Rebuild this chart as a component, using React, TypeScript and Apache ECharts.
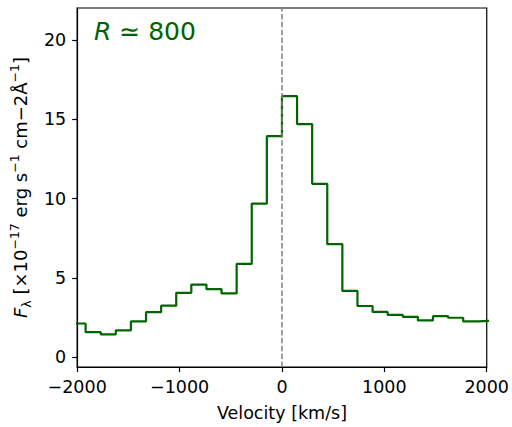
import React, { useEffect, useRef } from "react";
import * as echarts from "echarts";

// Bin edges of the spectrum (km/s) and flux per bin (1e-17 erg s^-1 cm^-2 Å^-1)
const binEdges = [
  -2065, -1917.5, -1770, -1622.5, -1475, -1327.5, -1180, -1032.5, -885, -737.5,
  -590, -442.5, -295, -147.5, 0, 147.5, 295, 442.5, 590, 737.5, 885, 1032.5,
  1180, 1327.5, 1475, 1622.5, 1770, 1917.5, 2065,
];
const fluxValues = [
  2.14, 1.59, 1.46, 1.71, 2.27, 2.85, 3.26, 4.07, 4.59, 4.3, 4.03, 5.89, 9.69,
  13.93, 16.45, 14.69, 10.93, 7.13, 4.19, 3.24, 2.87, 2.68, 2.56, 2.33, 2.6,
  2.5, 2.27, 2.31,
];
const xTicks = [-2000, -1000, 0, 1000, 2000];
const yTicks = [0, 5, 10, 15, 20];

const FONT = "DejaVu Sans";

export default function App() {
  const ref = useRef<HTMLDivElement>(null);

  useEffect(() => {
    document.body.style.margin = "0";
    if (!ref.current) return;
    const chart = echarts.init(ref.current, null, { renderer: "svg" });

    const stepData: number[][] = fluxValues.map((v, i) => [binEdges[i], v]);
    stepData.push([binEdges[binEdges.length - 1], fluxValues[fluxValues.length - 1]]);

    const minus = (v: number) => String(v).replace("-", "\u2212");

    chart.setOption({
      animation: false,
      textStyle: { fontFamily: FONT },
      grid: {
        left: 75,
        top: 8,
        right: 25,
        bottom: 54,
        show: true,
        borderColor: "#000",
        borderWidth: 1.2,
        backgroundColor: "transparent",
      },
      xAxis: {
        type: "value",
        min: xTicks[0],
        max: xTicks[xTicks.length - 1],
        interval: 1000,
        splitLine: { show: false },
        axisLine: { show: true, onZero: false, lineStyle: { color: "#000", width: 1.2 } },
        axisTick: { show: true, inside: false, length: 5, lineStyle: { color: "#000", width: 1.2 } },
        axisLabel: {
          color: "#000",
          fontSize: 17.5,
          fontFamily: FONT,
          margin: 11,
          formatter: (v: number) => minus(v),
        },
        name: "Velocity [km/s]",
        nameLocation: "middle",
        nameGap: 37,
        nameTextStyle: { color: "#000", fontSize: 17.5, fontFamily: FONT },
      },
      yAxis: {
        type: "value",
        min: -0.6,
        max: 22,
        splitLine: { show: false },
        axisLine: { show: true, onZero: false, lineStyle: { color: "#000", width: 1.2 } },
        axisTick: {
          show: true,
          inside: false,
          length: 5,
          customValues: yTicks,
          lineStyle: { color: "#000", width: 1.2 },
        },
        axisLabel: {
          color: "#000",
          fontSize: 17.5,
          fontFamily: FONT,
          margin: 11,
          customValues: yTicks,
          formatter: (v: number) => minus(v),
        },
        name: "{it|F}{sub|λ} [×10{sup|−17} erg s{sup|−1} cm−2Å{sup|−1}]",
        nameLocation: "middle",
        nameGap: 43,
        nameRotate: 90,
        nameTextStyle: {
          color: "#000",
          fontSize: 18,
          fontFamily: FONT,
          rich: {
            it: { fontSize: 18, fontStyle: "italic", fontFamily: FONT, color: "#000", lineHeight: 25, verticalAlign: "middle" },
            sub: { fontSize: 12.5, fontFamily: FONT, color: "#000", lineHeight: 12, verticalAlign: "bottom" },
            sup: { fontSize: 12.5, fontFamily: FONT, color: "#000", lineHeight: 12, verticalAlign: "top" },
          },
        },
      },
      series: [
        {
          type: "line",
          step: "end",
          data: stepData,
          symbol: "none",
          clip: true,
          lineStyle: { color: "#006400", width: 2.2 },
          markLine: {
            silent: true,
            symbol: "none",
            label: { show: false },
            lineStyle: { color: "#808080", type: [5.5, 2.4], width: 1.5 },
            data: [{ xAxis: 0 }],
          },
        },
      ],
      graphic: [
        {
          type: "text",
          left: 94,
          top: 19,
          style: {
            text: "{i|R} ≃ 800",
            fontSize: 25,
            fontFamily: FONT,
            fill: "#006400",
            rich: {
              i: { fontSize: 25, fontStyle: "italic", fontFamily: FONT, fill: "#006400", color: "#006400" },
            },
          },
        },
      ],
    });

    return () => chart.dispose();
  }, []);

  return <div ref={ref} style={{ width: 512, height: 427 }} />;
}
